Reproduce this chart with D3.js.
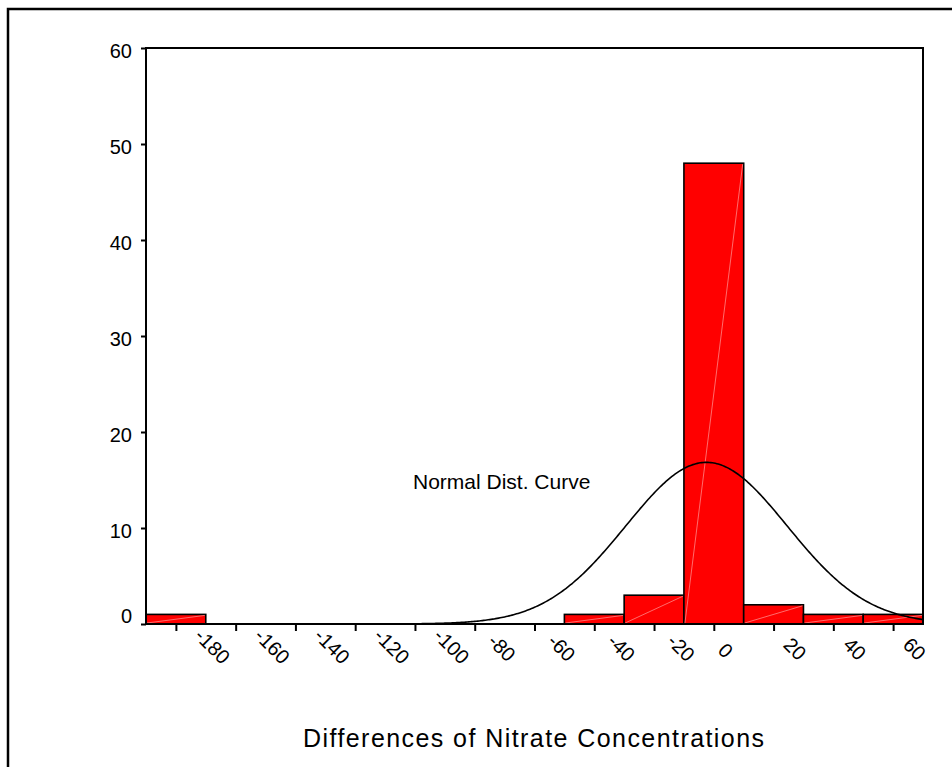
<!DOCTYPE html>
<html>
<head>
<meta charset="utf-8">
<script src="https://cdn.jsdelivr.net/npm/d3@7"></script>
<style>
  body { margin: 0; background: #fff; }
  text { font-family: "Liberation Sans", Arial, sans-serif; fill: #000; }
</style>
</head>
<body>
<div id="chart"></div>
<script>
// histogram bins (centre of each 20-wide bin) and counts
const binCenters = [-180, -160, -140, -120, -100, -80, -60, -40, -20, 0, 20, 40, 60];
const counts = [1, 0, 0, 0, 0, 0, 0, 1, 3, 48, 2, 1, 1];
const binWidth = 20;
const yTicks = [0, 10, 20, 30, 40, 50, 60];
const curveLabel = "Normal Dist. Curve";
const xTitle = "Differences of Nitrate Concentrations";

const width = 952;
const height = 767;
const plot = {left: 146, right: 923, top: 48, bottom: 624};

const svg = d3.select('#chart')
    .append('svg')
    .attr('width', width)
    .attr('height', height);

// outer frame, runs off the right and bottom edges
svg.append('rect')
    .attr('x', 8)
    .attr('y', 9)
    .attr('width', 1000)
    .attr('height', 800)
    .attr('fill', 'none')
    .attr('stroke', '#000')
    .attr('stroke-width', 2.5);

const x = d3.scaleLinear()
    .domain([binCenters[0] - binWidth / 2, binCenters[binCenters.length - 1] + binWidth / 2])
    .range([plot.left, plot.right]);
const y = d3.scaleLinear().domain([0, 60]).range([plot.bottom, plot.top]);

const bins = binCenters.map((c, i) => ({center: c, count: counts[i]}));

// bars
const bars = svg.append('g').selectAll('g')
    .data(bins.filter(d => d.count > 0))
    .enter().append('g');

bars.append('rect')
    .attr('x', d => x(d.center - binWidth / 2))
    .attr('y', d => y(d.count))
    .attr('width', d => x(d.center + binWidth / 2) - x(d.center - binWidth / 2))
    .attr('height', d => y(0) - y(d.count))
    .attr('fill', '#ff0000')
    .attr('stroke', '#000')
    .attr('stroke-width', 1.6);

// faint diagonal seam inside each bar
bars.append('line')
    .attr('x1', d => x(d.center - binWidth / 2) + 1)
    .attr('y1', y(0) - 1)
    .attr('x2', d => x(d.center + binWidth / 2) - 1)
    .attr('y2', d => y(d.count) + 1)
    .attr('stroke', '#ff9a9a')
    .attr('stroke-width', 0.7);

// normal curve fitted to the binned data
const n = d3.sum(counts);
const mean = d3.sum(bins, d => d.center * d.count) / n;
const sd = Math.sqrt(d3.sum(bins, d => d.count * (d.center - mean) ** 2) / (n - 1));
const pdf = v => n * binWidth / (sd * Math.sqrt(2 * Math.PI)) * Math.exp(-((v - mean) ** 2) / (2 * sd * sd));
const xs = d3.range(x.domain()[0], x.domain()[1] + 0.01, 0.5);

svg.append('path')
    .datum(xs)
    .attr('d', d3.line().x(v => x(v)).y(v => y(pdf(v))))
    .attr('fill', 'none')
    .attr('stroke', '#000')
    .attr('stroke-width', 1.6);

// plot box
svg.append('rect')
    .attr('x', plot.left)
    .attr('y', plot.top)
    .attr('width', plot.right - plot.left)
    .attr('height', plot.bottom - plot.top)
    .attr('fill', 'none')
    .attr('stroke', '#000')
    .attr('stroke-width', 2);

// y axis
const yAxis = svg.append('g')
    .attr('transform', `translate(${plot.left},0)`)
    .call(d3.axisLeft(y).tickValues(yTicks).tickSize(5).tickSizeOuter(0));
yAxis.select('.domain').remove();
yAxis.selectAll('line').attr('stroke', '#000').attr('stroke-width', 2);
yAxis.selectAll('text')
    .attr('font-family', null)
    .attr('font-size', 20)
    .attr('x', -14)
    .attr('dy', null)
    .attr('y', d => d === 0 ? -2 : 9);

// x axis
const xAxis = svg.append('g')
    .attr('transform', `translate(0,${plot.bottom})`)
    .call(d3.axisBottom(x).tickValues(binCenters).tickSize(7).tickSizeOuter(0).tickFormat(d => String(d)));
xAxis.select('.domain').remove();
xAxis.selectAll('line').attr('stroke', '#000').attr('stroke-width', 2);
xAxis.selectAll('text')
    .attr('font-family', null)
    .attr('font-size', 20)
    .attr('text-anchor', 'start')
    .attr('dy', null)
    .attr('x', 0)
    .attr('y', 0)
    .attr('transform', function() {
        const L = this.getComputedTextLength();
        return `translate(${L / 2 - 3},${33 - L / 2}) rotate(45)`;
    });

svg.append('text')
    .attr('x', 413)
    .attr('y', 489)
    .attr('font-size', 21)
    .text(curveLabel);

svg.append('text')
    .attr('x', 303)
    .attr('y', 747)
    .attr('font-size', 25)
    .attr('textLength', 461)
    .attr('lengthAdjust', 'spacing')
    .text(xTitle);
</script>
</body>
</html>
